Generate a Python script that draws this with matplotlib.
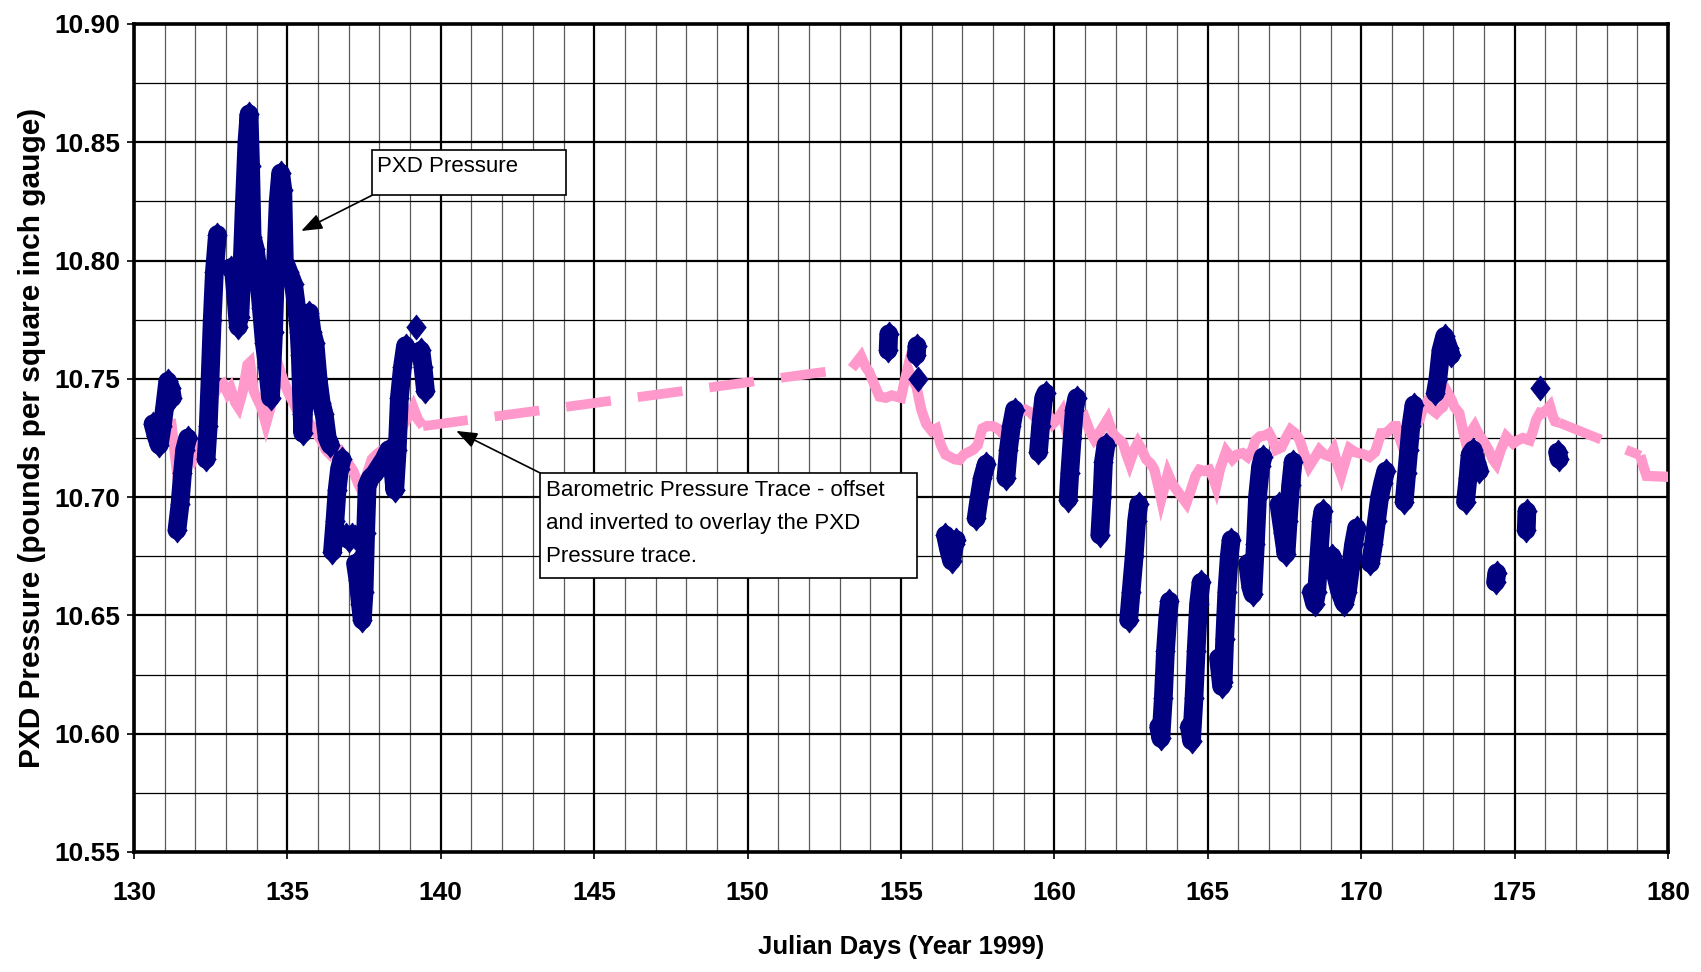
import numpy as np
import matplotlib
matplotlib.use('Agg')
import matplotlib.pyplot as plt
from matplotlib.path import Path
from matplotlib.patches import Rectangle
from matplotlib.ticker import MultipleLocator, FormatStrFormatter

SANS = ['Liberation Sans', 'DejaVu Sans']
plt.rcParams['font.family'] = SANS
plt.rcParams['lines.scale_dashes'] = False

nan = float('nan')

# PXD transducer readings (psig); NaN separates the individual recording runs
pxd_day = [
    130.62, 130.72, 130.82, 130.92, 131.0, 131.1, 131.2, 131.25, nan,
    131.4, 131.5, 131.58, 131.65, 131.75, nan,
    132.35, 132.42, 132.48, 132.55, 132.62, 132.72, nan,
    133.15, 133.25, 133.32, 133.4, nan,
    133.45, 133.52, 133.6, 133.68, 133.75, 133.8, 133.85, 133.95, 134.05, 134.15, 134.25, 134.35, 134.45,
    134.55, 134.62, 134.7, 134.78, 134.85, 134.9, 135.05, 135.2, 135.3, 135.38, 135.42, 135.48, 135.5,
    135.58, 135.65, 135.72, 135.8, 135.9, 136.0, 136.1, 136.2, 136.3, 136.4, nan,
    136.47, 136.55, 136.62, 136.7, 136.78, nan,
    136.9, 137.0, 137.1, 137.2, nan,
    137.22, 137.3, 137.38, 137.44, 137.5, 137.55, 137.6, 137.7, 137.85, 138.0, 138.15, 138.3, 138.4,
    138.5, 138.58, 138.65, 138.75, 138.85, nan,
    139.18, nan,
    139.35, 139.42, 139.5, nan,
    154.6, 154.58, nan,
    155.52, 155.5, nan,
    155.57, nan,
    156.45, 156.55, 156.65, 156.75, 156.8, nan,
    157.45, 157.55, 157.65, 157.78, nan,
    158.42, 158.5, 158.6, 158.7, nan,
    159.48, 159.55, 159.65, 159.72, nan,
    160.45, 160.5, 160.58, 160.65, 160.73, nan,
    161.48, 161.55, 161.6, 161.68, nan,
    162.42, 162.5, 162.6, 162.68, 162.75, nan,
    163.4, 163.47, 163.55, 163.62, 163.7, 163.75, nan,
    164.4, 164.47, 164.55, 164.62, 164.7, 164.78, nan,
    165.35, 165.45, 165.5, 165.55, 165.62, 165.7, 165.76, nan,
    166.3, 166.4, 166.47, 166.55, 166.62, 166.72, 166.8, nan,
    167.32, 167.45, 167.55, 167.62, 167.7, 167.78, nan,
    168.38, 168.48, 168.55, 168.62, 168.7, 168.75, nan,
    169.05, 169.15, 169.3, 169.45, 169.55, 169.65, 169.75, 169.85, nan,
    170.3, 170.4, 170.5, 170.6, 170.7, 170.8, nan,
    171.4, 171.48, 171.55, 171.62, 171.72, nan,
    172.42, 172.5, 172.6, 172.72, 172.85, 172.93, nan,
    173.4, 173.48, 173.55, 173.65, 173.75, 173.85, nan,
    174.38, 174.42, nan,
    175.4, 175.38, nan,
    175.82, nan,
    176.4, 176.45,
]
pxd_val = [
    10.731, 10.726, 10.722, 10.730, 10.738, 10.749, 10.746, 10.742, nan,
    10.686, 10.697, 10.710, 10.720, 10.725, nan,
    10.716, 10.730, 10.750, 10.775, 10.795, 10.811, nan,
    10.797, 10.795, 10.785, 10.772, nan,
    10.776, 10.797, 10.825, 10.850, 10.862, 10.840, 10.810, 10.805, 10.795, 10.780, 10.765, 10.755, 10.742,
    10.770, 10.800, 10.825, 10.837, 10.830, 10.800, 10.795, 10.790, 10.780, 10.770, 10.760, 10.735, 10.727,
    10.755, 10.775, 10.778, 10.770, 10.765, 10.750, 10.740, 10.735, 10.725, 10.722, nan,
    10.677, 10.690, 10.703, 10.712, 10.716, nan,
    10.684, 10.682, 10.684, 10.683, nan,
    10.672, 10.665, 10.655, 10.648, 10.660, 10.685, 10.705, 10.708, 10.710, 10.713, 10.716, 10.720, 10.718,
    10.703, 10.720, 10.742, 10.755, 10.764, nan,
    10.772, nan,
    10.762, 10.755, 10.745, nan,
    10.769, 10.762, nan,
    10.764, 10.760, nan,
    10.750, nan,
    10.684, 10.678, 10.673, 10.680, 10.682, nan,
    10.691, 10.700, 10.708, 10.714, nan,
    10.708, 10.720, 10.730, 10.737, nan,
    10.719, 10.730, 10.742, 10.744, nan,
    10.699, 10.710, 10.725, 10.737, 10.742, nan,
    10.684, 10.700, 10.715, 10.722, nan,
    10.648, 10.660, 10.675, 10.690, 10.697, nan,
    10.603, 10.598, 10.615, 10.635, 10.650, 10.656, nan,
    10.603, 10.597, 10.615, 10.635, 10.655, 10.664, nan,
    10.632, 10.620, 10.622, 10.640, 10.660, 10.675, 10.682, nan,
    10.672, 10.662, 10.659, 10.680, 10.700, 10.713, 10.717, nan,
    10.697, 10.685, 10.676, 10.690, 10.705, 10.715, nan,
    10.660, 10.655, 10.660, 10.675, 10.690, 10.694, nan,
    10.675, 10.668, 10.660, 10.655, 10.660, 10.670, 10.680, 10.687, nan,
    10.672, 10.680, 10.690, 10.700, 10.706, 10.711, nan,
    10.698, 10.710, 10.720, 10.730, 10.739, nan,
    10.744, 10.750, 10.762, 10.768, 10.763, 10.760, nan,
    10.698, 10.708, 10.718, 10.720, 10.715, 10.711, nan,
    10.664, 10.668, nan,
    10.694, 10.686, nan,
    10.746, nan,
    10.719, 10.716,
]

# Barometric pressure, offset and inverted onto the PXD scale
baro_day = [
    131.2, 131.3, 131.38, 131.52, 131.65, 131.8, 131.95, 132.1, 132.3, 132.45, 132.6, 132.75, 132.9,
    133.05, 133.15, 133.3, 133.4, 133.55, 133.7, 133.78, 133.9, 134.0, 134.15, 134.3, 134.45, 134.6,
    134.75, 134.85, 135.0, 135.15, 135.3, 135.45, 135.6, 135.8, 135.95, 136.1, 136.25, 136.4, 136.55,
    136.7, 136.85, 137.0, 137.15, 137.3, 137.45, 137.6, 137.75, 137.9, 138.1, 138.3, 138.45, 138.6,
    138.8, 138.95, 139.1, 139.25, 139.42,
    153.4, 153.55, 153.7, 153.85, 153.96, 154.15, 154.3, 154.5, 154.7, 154.85, 155.0, 155.1, 155.22,
    155.35, 155.5, 155.66, 155.82, 156.0, 156.15, 156.3, 156.45, 156.6, 156.75, 156.9, 157.05, 157.2,
    157.35, 157.5, 157.65, 157.8, 158.0, 158.15, 158.3, 158.45, 158.55, 158.7, 158.88, 159.05, 159.2,
    159.35, 159.5, 159.65, 159.8, 159.95, 160.1, 160.25, 160.4, 160.55, 160.7, 160.85, 160.98, 161.15,
    161.3, 161.45, 161.6, 161.74, 161.9, 162.05, 162.23, 162.35, 162.45, 162.6, 162.72, 162.85, 162.99,
    163.15, 163.26, 163.38, 163.48, 163.6, 163.7, 163.8, 163.9, 164.1, 164.3, 164.45, 164.6, 164.73,
    164.9, 165.05, 165.18, 165.27, 165.4, 165.6, 165.8, 165.95, 166.14, 166.3, 166.45, 166.55, 166.7,
    166.85, 167.0, 167.12, 167.23, 167.4, 167.55, 167.7, 167.85, 167.99, 168.15, 168.3, 168.45, 168.64,
    168.8, 168.97, 169.1, 169.22, 169.35, 169.5, 169.62, 169.8, 169.95, 170.1, 170.27, 170.45, 170.65,
    170.8, 170.92, 171.05, 171.14, 171.25, 171.36, 171.48, 171.58, 171.75, 171.9, 172.0, 172.12, 172.3,
    172.45, 172.55, 172.66, 172.83, 172.95, 173.04, 173.2, 173.32, 173.42, 173.55, 173.7, 173.85, 173.97,
    174.15, 174.3, 174.4, 174.55, 174.73, 174.85, 174.95, 175.1, 175.27, 175.49, 175.6, 175.7, 175.83,
    175.92, 176.05, 176.15, 176.25, 176.32, 176.45,
    179.1, 179.2, 179.3, 179.6, 180.0, 180.3,
]
baro_val = [
    10.733, 10.722, 10.713, 10.717, 10.720, 10.721, 10.717, 10.722, 10.726, 10.730, 10.743, 10.747, 10.748,
    10.744, 10.746, 10.740, 10.738, 10.745, 10.756, 10.757, 10.745, 10.742, 10.738, 10.731, 10.738, 10.746,
    10.754, 10.750, 10.745, 10.741, 10.737, 10.735, 10.733, 10.730, 10.727, 10.724, 10.720, 10.718, 10.720,
    10.720, 10.717, 10.714, 10.711, 10.706, 10.702, 10.710, 10.716, 10.718, 10.720, 10.722, 10.720, 10.724,
    10.731, 10.734, 10.738, 10.733, 10.730,
    10.7545, 10.757, 10.7595, 10.755, 10.753, 10.747, 10.7425, 10.742, 10.743, 10.7425, 10.742, 10.748, 10.7545,
    10.750, 10.747, 10.737, 10.731, 10.728, 10.729, 10.722, 10.718, 10.717, 10.716, 10.7157, 10.718, 10.719,
    10.720, 10.722, 10.729, 10.730, 10.730, 10.729, 10.727, 10.730, 10.7345, 10.735, 10.736, 10.737, 10.736,
    10.734, 10.733, 10.735, 10.735, 10.731, 10.733, 10.736, 10.728, 10.730, 10.730, 10.733, 10.734, 10.728,
    10.7245, 10.727, 10.730, 10.733, 10.727, 10.725, 10.723, 10.718, 10.7144, 10.720, 10.723, 10.720, 10.716,
    10.714, 10.7116, 10.705, 10.699, 10.705, 10.710, 10.707, 10.7045, 10.701, 10.6975, 10.703, 10.709, 10.7116,
    10.711, 10.7116, 10.708, 10.7045, 10.712, 10.7194, 10.716, 10.718, 10.7186, 10.717, 10.720, 10.724, 10.7257,
    10.726, 10.727, 10.724, 10.720, 10.721, 10.725, 10.7285, 10.727, 10.7243, 10.718, 10.713, 10.716, 10.720,
    10.718, 10.7172, 10.720, 10.714, 10.7093, 10.716, 10.7206, 10.719, 10.7185, 10.718, 10.717, 10.719, 10.727,
    10.727, 10.7284, 10.730, 10.730, 10.725, 10.721, 10.725, 10.728, 10.730, 10.7326, 10.737, 10.7397, 10.737,
    10.7355, 10.737, 10.738, 10.7439, 10.741, 10.738, 10.7355, 10.728, 10.7227, 10.727, 10.730, 10.726, 10.724,
    10.720, 10.7157, 10.714, 10.720, 10.7256, 10.724, 10.7227, 10.724, 10.725, 10.724, 10.728, 10.7326, 10.7357,
    10.7355, 10.737, 10.7385, 10.734, 10.732, 10.7315,
    10.7176, 10.713, 10.709, 10.7088, 10.7086, 10.7086,
]

x_ticks = [130, 135, 140, 145, 150, 155, 160, 165, 170, 175, 180]
y_ticks = [10.55, 10.60, 10.65, 10.70, 10.75, 10.80, 10.85, 10.90]

NAVY = '#000080'
PINK = '#FF99CC'

fig = plt.figure(figsize=(17.01, 9.72), dpi=100)
ax = fig.add_axes([134 / 1701, 120 / 972, 1534 / 1701, 828 / 972])
ax.set_xlim(x_ticks[0], x_ticks[-1])
ax.set_ylim(y_ticks[0], y_ticks[-1])
ax.set_xticks(x_ticks)
ax.set_yticks(y_ticks)
ax.xaxis.set_minor_locator(MultipleLocator(1))
ax.yaxis.set_minor_locator(MultipleLocator(0.025))
ax.yaxis.set_major_formatter(FormatStrFormatter('%.2f'))

ax.set_axisbelow(True)
ax.grid(which='major', color='black', lw=1.6)
ax.grid(which='minor', axis='x', color='#5a5a5a', lw=0.9)
ax.grid(which='minor', axis='y', color='black', lw=0.9)
for s in ax.spines.values():
    s.set_linewidth(2.6)
    s.set_color('black')

ax.tick_params(which='major', length=5, width=1.2, color='black')
ax.tick_params(which='minor', length=0)
ax.tick_params(axis='x', pad=16)
ax.tick_params(axis='y', pad=5)
for lab in ax.get_xticklabels() + ax.get_yticklabels():
    lab.set_fontsize(19)
    lab.set_fontweight('bold')

# barometric trace: closely spaced samples drawn solid, long gaps drawn dashed
solid_runs, dashed_segs = [], []
run_x, run_y = [baro_day[0]], [baro_val[0]]
for i in range(1, len(baro_day)):
    if baro_day[i] - baro_day[i - 1] > 1.0:
        if len(run_x) > 1:
            solid_runs.append((run_x, run_y))
        dashed_segs.append(([baro_day[i - 1], baro_day[i]], [baro_val[i - 1], baro_val[i]]))
        run_x, run_y = [baro_day[i]], [baro_val[i]]
    else:
        run_x.append(baro_day[i])
        run_y.append(baro_val[i])
if len(run_x) > 1:
    solid_runs.append((run_x, run_y))

for xs, ys in solid_runs:
    ax.plot(xs, ys, color=PINK, lw=7.4, solid_joinstyle='miter',
            solid_capstyle='butt', zorder=3)
for xs, ys in dashed_segs:
    ax.plot(xs, ys, color=PINK, lw=7.0, linestyle=(0, (32.5, 19.5)),
            dash_capstyle='butt', zorder=3)

# PXD readings as tall diamonds
diamond = Path([(0, 1), (0.78, 0), (0, -1), (-0.78, 0), (0, 1)],
               [Path.MOVETO, Path.LINETO, Path.LINETO, Path.LINETO, Path.CLOSEPOLY])
ax.plot(pxd_day, pxd_val, color=NAVY, lw=13.5, solid_joinstyle='round',
        solid_capstyle='round', marker=diamond, ms=18, mfc=NAVY, mec=NAVY,
        mew=0.5, zorder=4)

# callouts
ax.add_patch(Rectangle((137.76, 10.8276), 144.09 - 137.76, 10.8469 - 10.8276,
                       fc='white', ec='black', lw=1.2, zorder=6))
ax.text(137.93, 10.8398, 'PXD Pressure', fontsize=16,
        ha='left', va='center', zorder=7)
ax.annotate('', xy=(135.45, 10.8125), xytext=(137.76, 10.8276),
            arrowprops=dict(arrowstyle='-|>,head_length=0.8,head_width=0.3',
                            mutation_scale=16, color='black', lw=1.2,
                            shrinkA=0, shrinkB=0), zorder=6)

ax.add_patch(Rectangle((143.24, 10.6658), 155.51 - 143.24, 10.7102 - 10.6658,
                       fc='white', ec='black', lw=1.2, zorder=6))
baro_note = ['Barometric Pressure Trace - offset',
             'and inverted to overlay the PXD',
             'Pressure trace.']
for k, line in enumerate(baro_note):
    ax.text(143.43, 10.703 - k * 0.0140, line, fontsize=16,
            ha='left', va='center', zorder=7)
ax.annotate('', xy=(140.5, 10.728), xytext=(143.24, 10.7102),
            arrowprops=dict(arrowstyle='-|>,head_length=0.8,head_width=0.3',
                            mutation_scale=16, color='black', lw=1.2,
                            shrinkA=0, shrinkB=0), zorder=6)

fig.text(901 / 1701, 1 - 947 / 972, 'Julian Days (Year 1999)', fontsize=18.5,
         fontweight='bold', ha='center', va='center')
fig.text(32.5 / 1701, 1 - 438 / 972, 'PXD Pressure (pounds per square inch gauge)',
         fontsize=21.5, fontweight='bold', rotation=90, ha='center', va='center')

fig.savefig('out.png', dpi=100, facecolor='white')
